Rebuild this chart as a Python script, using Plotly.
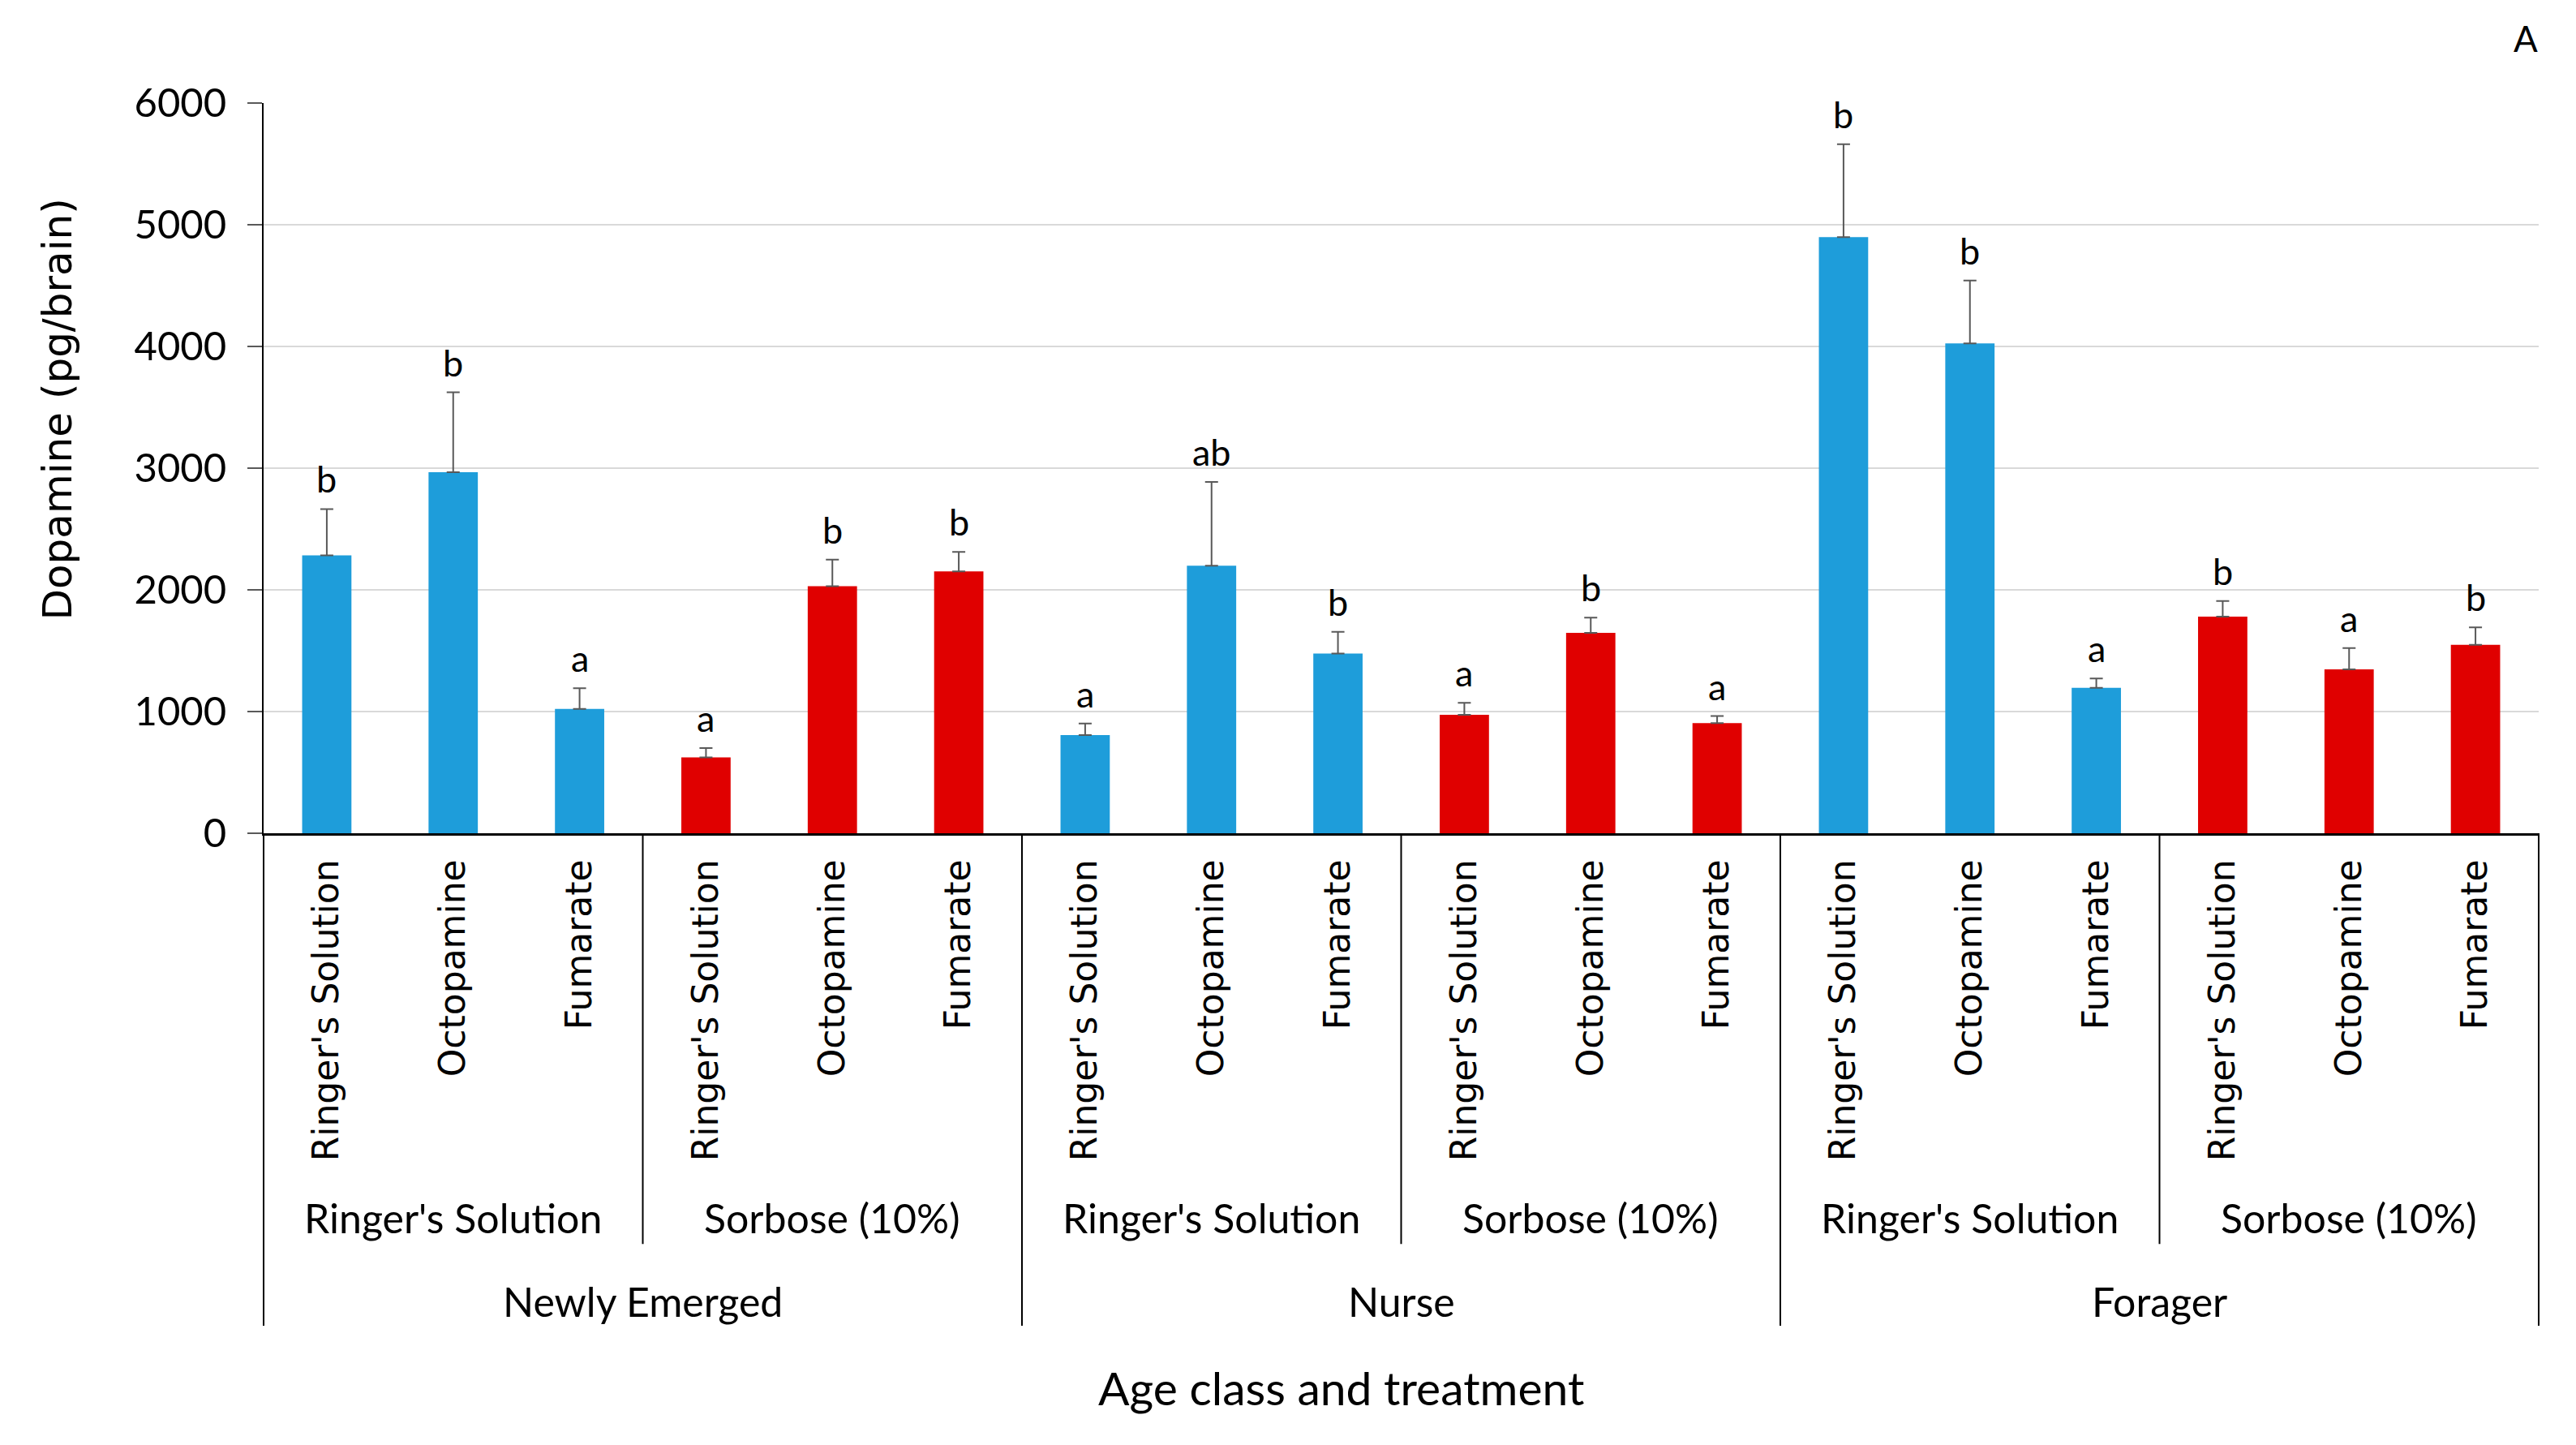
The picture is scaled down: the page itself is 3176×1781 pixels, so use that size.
import plotly.graph_objects as go

# ---------------- data ----------------
age_classes = ["Newly Emerged", "Nurse", "Forager"]
diets = ["Ringer's Solution", "Sorbose (10%)"]
treatments = ["Ringer's Solution", "Octopamine", "Fumarate"]

dopamine = [2284, 2967, 1022, 624, 2030, 2151,
            807, 2199, 1476, 973, 1646, 905,
            4899, 4025, 1195, 1780, 1347, 1548]
sem = [380, 656, 169, 76, 219, 160,
       94, 688, 179, 98, 125, 58,
       763, 517, 76, 129, 174, 143]
letters = ["b", "b", "a", "a", "b", "b",
           "a", "ab", "b", "a", "b", "a",
           "b", "b", "a", "b", "a", "b"]

y_ticks = [0, 1000, 2000, 3000, 4000, 5000, 6000]

# ---------------- styling ----------------
diet_colors = {"Ringer's Solution": "#1E9DDA", "Sorbose (10%)": "#E00000"}
F_MAIN = "Lato"
F_ROT = "DejaVu Sans"

n_t = len(treatments)
n_d = len(diets)
n_bars = len(age_classes) * n_d * n_t
xr = [-0.5, n_bars - 0.5]

fig = go.Figure()

tick_vals, tick_text = [], []
for di, diet in enumerate(diets):
    xs, ys, es = [], [], []
    for ai, age in enumerate(age_classes):
        for ti, tr in enumerate(treatments):
            idx = ai * n_d * n_t + di * n_t + ti
            xs.append(idx)
            ys.append(dopamine[idx])
            es.append(sem[idx])
    fig.add_trace(go.Bar(
        x=xs, y=ys, width=0.39,
        marker=dict(color=diet_colors[diet], line=dict(width=0)),
        error_y=dict(type="data", symmetric=False, array=es,
                     arrayminus=[0] * len(es), color="#595959",
                     thickness=2, width=8),
        name=diet, showlegend=False, hoverinfo="x+y"))

for ai, age in enumerate(age_classes):
    for di, diet in enumerate(diets):
        for ti, tr in enumerate(treatments):
            idx = ai * n_d * n_t + di * n_t + ti
            tick_vals.append(idx)
            tick_text.append(tr)

annotations = []
# significance letters
for i, (v, e, l) in enumerate(zip(dopamine, sem, letters)):
    annotations.append(dict(x=i, y=v + e, xref="x", yref="y", text=l,
                            showarrow=False, yanchor="bottom", yshift=8,
                            font=dict(family=F_MAIN, size=45, color="#000")))

def px(b):
    return (b - xr[0]) / (xr[1] - xr[0])

shapes = []
# diet (sub-group) labels and separators
for ai, age in enumerate(age_classes):
    for di, diet in enumerate(diets):
        start = ai * n_d * n_t + di * n_t
        annotations.append(dict(x=start + (n_t - 1) / 2, y=-0.527, xref="x", yref="paper",
                                text=diet, showarrow=False, yanchor="middle", xanchor="center",
                                font=dict(family=F_MAIN, size=50, color="#000")))
        if di > 0:
            b = start - 0.5
            shapes.append(dict(type="line", xref="paper", yref="paper",
                               x0=px(b), x1=px(b), y0=0, y1=-0.5624,
                               line=dict(color="#000", width=2)))
    g_start = ai * n_d * n_t
    annotations.append(dict(x=g_start + (n_d * n_t - 1) / 2, y=-0.641, xref="x", yref="paper",
                            text=age, showarrow=False, yanchor="middle", xanchor="center",
                            font=dict(family=F_MAIN, size=50, color="#000")))

for ai in range(len(age_classes) + 1):
    b = ai * n_d * n_t - 0.5
    shapes.append(dict(type="line", xref="paper", yref="paper",
                       x0=px(b), x1=px(b), y0=0, y1=-0.6745,
                       line=dict(color="#000", width=2)))

# axis titles & panel letter
annotations.append(dict(x=0.4735, y=-0.759, xref="paper", yref="paper",
                        text="Age class and treatment", showarrow=False,
                        xanchor="center", yanchor="middle",
                        font=dict(family=F_MAIN, size=57, color="#000")))
annotations.append(dict(x=-0.0904, y=0.581, xref="paper", yref="paper",
                        text="Dopamine (pg/brain)", showarrow=False, textangle=-90,
                        xanchor="center", yanchor="middle",
                        font=dict(family=F_ROT, size=50, color="#000")))
annotations.append(dict(x=1.0004, y=1.0884, xref="paper", yref="paper",
                        text="A", showarrow=False, xanchor="right", yanchor="middle",
                        font=dict(family=F_MAIN, size=44, color="#000")))

fig.update_layout(
    width=3176, height=1781,
    margin=dict(l=317, r=54, t=119, b=762),
    paper_bgcolor="white", plot_bgcolor="white",
    bargap=0.6,
    showlegend=False,
    shapes=shapes,
    annotations=annotations,
    xaxis=dict(range=xr, tickmode="array", tickvals=tick_vals, ticktext=tick_text,
               tickangle=-90, ticks="", ticklabelstandoff=12,
               tickfont=dict(family=F_ROT, size=44, color="#000"),
               showgrid=False, zeroline=False, showline=True,
               linecolor="#000", linewidth=2.5, fixedrange=True),
    yaxis=dict(range=[0, 6000], tickmode="array", tickvals=y_ticks,
               ticks="outside", ticklen=18, tickwidth=2, tickcolor="#595959",
               ticklabelstandoff=16,
               tickfont=dict(family=F_MAIN, size=49, color="#000"),
               showgrid=True, gridcolor="#D9D9D9", gridwidth=2,
               zeroline=False, showline=True, linecolor="#000", linewidth=2),
)

fig.write_html("out.html")
